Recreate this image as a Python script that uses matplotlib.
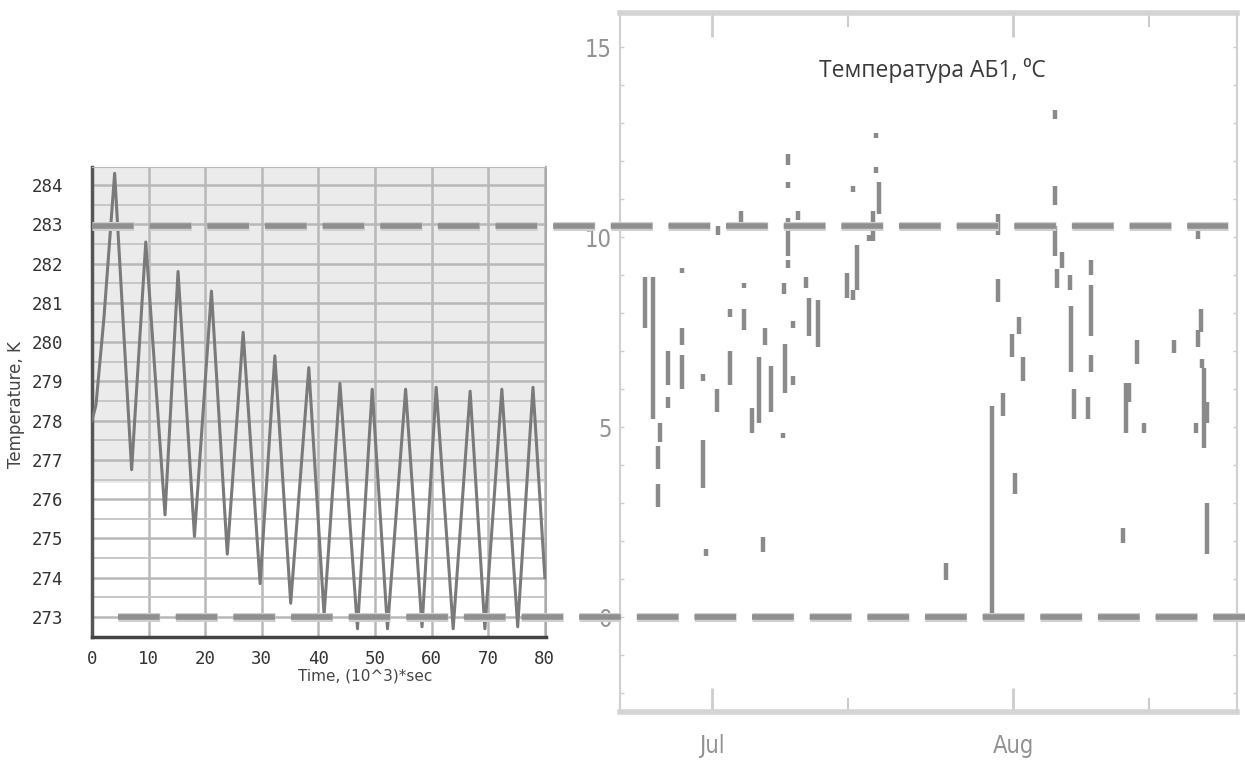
import matplotlib
matplotlib.use("Agg")
import numpy as np
import matplotlib.pyplot as plt
import matplotlib.dates as mdates
from matplotlib.ticker import MultipleLocator
from datetime import datetime

plt.rcParams['lines.scale_dashes'] = False

# left panel: modelled temperature, K vs time (10^3 s) - extremes
time_ks = [0.0, 0.7, 2.1, 4.0, 7.0, 9.5, 12.9, 15.2, 18.1, 21.1, 23.9, 26.7, 29.7, 32.3, 35.1,
           38.3, 41.0, 43.8, 46.9, 49.5, 52.2, 55.4, 58.3, 60.8, 63.8, 66.8, 69.4, 72.4,
           75.2, 77.9, 80.0]
temp_k = [278.0, 278.4, 280.6, 284.3, 276.75, 282.55, 275.6, 281.8, 275.05, 281.3, 274.6,
          280.25, 273.85, 279.65, 273.35, 279.35, 273.05, 278.95, 272.7, 278.8, 272.7,
          278.8, 272.75, 278.85, 272.7, 278.75, 272.7, 278.8, 272.75, 278.85, 274.0]

# threshold lines (K) that run across both panels
upper_limit_k = 282.95
lower_limit_k = 273.0

# right panel: measured battery temperature, gaps in the record -> vertical strokes
# day offset from 1 July, low and high value in deg C
gap_day = [-6.9, -6.1, -5.4, -5.6, -5.6, -4.5, -4.5, -3.1, -3.1, -3.1, -0.9, -0.9, -0.6, 0.5,
           0.6, 1.85, 1.85, 3.0, 3.3, 3.3, 4.1, 4.85, 5.25, 5.45, 6.1, 7.3, 7.4, 7.5, 7.8, 7.8,
           7.8, 7.8, 8.35, 8.35, 8.85, 9.7, 10.0, 10.9, 13.9, 14.5, 14.5, 14.9, 16.2, 16.6,
           16.9, 16.9, 17.2, 24.1, 28.85, 29.45, 29.45, 29.95, 30.9, 31.2, 31.6, 32.0, 35.3,
           35.3, 35.3, 35.5, 36.05, 36.9, 37.0, 37.3, 38.7, 39.0, 39.0, 39.0, 42.3, 42.65,
           42.95, 43.75, 44.5, 47.6, 49.85, 50.05, 50.35, 50.45, 50.65, 51.0, 51.0, 50.05]
gap_lo = [7.6, 5.2, 4.6, 3.9, 2.9, 6.1, 5.5, 9.05, 7.15, 6.0, 6.2, 3.4, 1.6, 5.4,
          10.05, 7.9, 6.1, 10.4, 8.65, 7.55, 4.85, 5.1, 1.7, 7.15, 5.4, 4.7, 8.5, 5.9, 11.9, 11.3,
          9.5, 9.2, 7.6, 6.1, 10.45, 8.65, 7.4, 7.1, 8.4, 8.35, 11.2, 8.6, 9.9, 9.9,
          12.6, 11.7, 10.6, 0.97, 0.0, 10.05, 8.3, 5.3, 6.85, 3.25, 7.45, 6.2, 13.1,
          10.85, 9.5, 8.65, 9.2, 8.6, 6.45, 5.2, 5.2, 9.0, 7.4, 6.45, 1.95, 4.85,
          5.65, 6.65, 4.85, 6.95, 4.85, 7.1, 7.5, 6.55, 4.45, 5.1, 1.65, 9.95]
gap_hi = [8.95, 8.95, 5.1, 4.5, 3.5, 7.0, 5.8, 9.2, 7.6, 6.9, 6.4, 4.65, 1.8, 6.0,
          10.3, 8.1, 7.0, 10.7, 8.8, 8.1, 5.5, 6.85, 2.1, 7.6, 6.6, 4.85, 8.8, 7.2, 12.2, 11.45,
          10.5, 9.4, 7.8, 6.35, 10.7, 8.95, 8.4, 8.35, 9.05, 8.6, 11.35, 9.8, 10.05, 10.7,
          12.75, 11.85, 11.45, 1.42, 5.55, 10.6, 8.9, 5.9, 7.45, 3.8, 7.9, 6.85, 13.35,
          11.35, 10.3, 9.15, 9.6, 9.0, 8.2, 6.0, 5.8, 9.4, 8.75, 6.9, 2.35, 6.15,
          6.15, 7.3, 5.1, 7.3, 5.1, 7.55, 8.1, 6.8, 6.55, 5.65, 3.0, 10.25]

month_start = datetime(2014, 7, 1)
right_title = "Температура АБ1, \u2070C"

fig = plt.figure(figsize=(12.45, 7.6), dpi=100)
ax1 = fig.add_axes([92 / 1245, 123 / 760, 454 / 1245, 470 / 760])
ax2 = fig.add_axes([620 / 1245, 48 / 760, 617 / 1245, 699 / 760])
ax1.set_zorder(3)

# ---- left panel ----
ax1.set_xlim(0, 80.2)
ax1.set_ylim(272.49, 284.46)
ax1.axhspan(276.4, 284.46, color="#ebebeb", zorder=0, lw=0)
ax1.set_yticks(np.arange(273, 285))
ax1.yaxis.set_minor_locator(MultipleLocator(0.5))
ax1.set_xticks(np.arange(0, 81, 10))
ax1.grid(which="major", axis="both", color="#b8b8b8", lw=1.8, zorder=1)
ax1.grid(which="minor", axis="y", color="#c4c4c4", lw=1.3, zorder=1)
ax1.set_axisbelow(True)
ax1.plot(time_ks, temp_k, color="#7a7a7a", lw=2.2, zorder=4)
ax1.tick_params(which="both", length=0)
ax1.tick_params(axis="y", pad=21)
ax1.tick_params(axis="x", pad=9)
for lab in ax1.get_xticklabels() + ax1.get_yticklabels():
    lab.set_fontfamily("DejaVu Sans Mono")
    lab.set_fontsize(12.5)
    lab.set_color("#333333")
ax1.set_ylabel("Temperature, K", fontsize=12, color="#444444")
ax1.yaxis.set_label_coords(-0.148, 0.494)
ax1.set_xlabel("Time, (10^3)*sec", fontsize=11, color="#444444")
ax1.xaxis.set_label_coords(0.601, -0.068)
ax1.spines["left"].set_color("#555555")
ax1.spines["left"].set_linewidth(2.5)
ax1.spines["bottom"].set_color("#444444")
ax1.spines["bottom"].set_linewidth(2.5)
ax1.spines["top"].set_color("#b8b8b8")
ax1.spines["right"].set_color("#aaaaaa")
ax1.spines["right"].set_linewidth(1.5)

# threshold dashed lines crossing both panels
for y, x0, x1 in [(upper_limit_k, 0.0, 2.502), (lower_limit_k, 0.057, 2.54)]:
    ax1.axhline(y, x0, x1, color="#cfcfcf", lw=6.5, dashes=(30, 11.5), clip_on=False, zorder=6)
    ax1.axhline(y, x0, x1, color="#8f8f8f", lw=4.0, dashes=(30, 11.5), clip_on=False, zorder=7)

# ---- right panel ----
x0 = mdates.date2num(month_start)
gap_x = [x0 + d for d in gap_day]
ax2.vlines(gap_x, gap_lo, gap_hi, colors="#8a8a8a", lw=3.2)
ax2.set_xlim(x0 - 9.47, x0 + 54.07)
ax2.set_ylim(-2.5, 15.9)
ax2.xaxis.set_major_locator(mdates.MonthLocator())
ax2.xaxis.set_minor_locator(mdates.MonthLocator(bymonthday=15))
ax2.xaxis.set_major_formatter(mdates.DateFormatter("%b"))
ax2.set_yticks([0, 5, 10, 15])
ax2.yaxis.set_minor_locator(MultipleLocator(1))
ax2.tick_params(axis="x", which="major", direction="in", length=17, width=2,
                color="#cccccc", top=True, pad=16)
ax2.tick_params(axis="x", which="minor", direction="in", length=10, width=1.5,
                color="#cccccc", top=True)
ax2.tick_params(axis="y", which="both", direction="in", length=3, width=1,
                color="#cccccc", right=True, pad=6)
for lab in ax2.get_xticklabels() + ax2.get_yticklabels():
    lab.set_fontfamily("DejaVu Sans")
    lab.set_fontstretch("condensed")
    lab.set_fontsize(17)
    lab.set_color("#929292")
for side in ["top", "bottom"]:
    ax2.spines[side].set_color("#d4d4d4")
    ax2.spines[side].set_linewidth(4)
for side in ["left", "right"]:
    ax2.spines[side].set_color("#d0d0d0")
    ax2.spines[side].set_linewidth(1.5)
ax2.text(0.506, 0.918, right_title, transform=ax2.transAxes, ha="center", va="center",
         fontsize=16.5, color="#3a3a3a", family=["Open Sans", "DejaVu Sans"])

fig.savefig("out.png", dpi=100)
